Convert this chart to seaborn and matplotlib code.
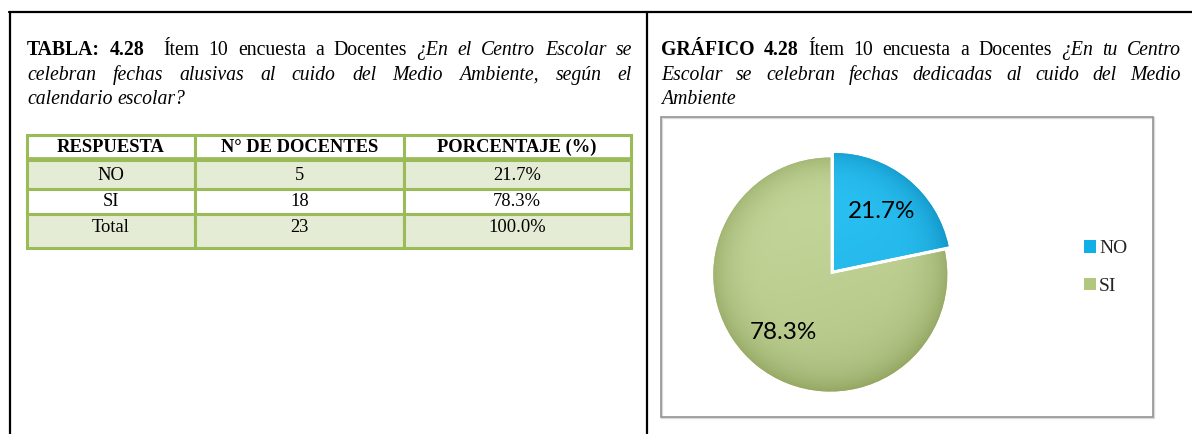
import numpy as np
import matplotlib
matplotlib.use("Agg")
import matplotlib.pyplot as plt
import seaborn as sns
from matplotlib.patches import Rectangle
from matplotlib.lines import Line2D
from matplotlib.transforms import IdentityTransform
from matplotlib.colors import to_rgb

# ---------------- data ----------------
headers = ["RESPUESTA", "N° DE DOCENTES", "PORCENTAJE (%)"]
respuestas = ["NO", "SI"]
n_docentes = [5, 18]
porcentajes = [21.7, 78.3]
total_label = "Total"

left_title = [
    [("TABLA:", "b", 0), ("4.28", "b", 1), ("Ítem", "n", 2), ("10", "n", 1), ("encuesta", "n", 1),
     ("a", "n", 1), ("Docentes", "n", 1), ("¿En", "i", 1), ("el", "i", 1), ("Centro", "i", 1),
     ("Escolar", "i", 1), ("se", "i", 1)],
    [("celebran", "i", 0), ("fechas", "i", 1), ("alusivas", "i", 1), ("al", "i", 1), ("cuido", "i", 1),
     ("del", "i", 1), ("Medio", "i", 1), ("Ambiente,", "i", 1), ("según", "i", 1), ("el", "i", 1)],
    [("calendario", "i", 0), ("escolar?", "i", 1)],
]
right_title = [
    [("GRÁFICO", "b", 0), ("4.28", "b", 1), ("Ítem", "n", 1), ("10", "n", 1), ("encuesta", "n", 1),
     ("a", "n", 1), ("Docentes", "n", 1), ("¿En", "i", 1), ("tu", "i", 1), ("Centro", "i", 1)],
    [("Escolar", "i", 0), ("se", "i", 1), ("celebran", "i", 1), ("fechas", "i", 1), ("dedicadas", "i", 1),
     ("al", "i", 1), ("cuido", "i", 1), ("del", "i", 1), ("Medio", "i", 1)],
    [("Ambiente", "i", 0)],
]

# ---------------- style ----------------
sns.set_theme(style="white")
plt.rcParams["font.family"] = ["Liberation Serif", "DejaVu Serif"]

W, H = 1192, 434
fig = plt.figure(figsize=(W / 100, H / 100), dpi=100)
fig.patch.set_facecolor("white")
renderer = fig.canvas.get_renderer()

def fx(x):
    return x / W

def fy(y):
    return 1 - y / H

# ---------------- frame lines ----------------
for line in [((9, W), (11.5, 11.5)), ((10, 10), (11.5, H)), ((647, 647), (11.5, H))]:
    fig.add_artist(Line2D([fx(v) for v in line[0]], [fy(v) for v in line[1]],
                          transform=fig.transFigure, color="black", lw=1.6))

# ---------------- justified title text ----------------
TITLE_SIZE = 14.2

def text_line(words, x0, x1, y, justify, size=TITLE_SIZE):
    arts = []
    for w, st, _ in words:
        t = fig.text(0, 0, w, transform=IdentityTransform(), fontsize=size,
                     family="Liberation Serif",
                     fontweight="bold" if st == "b" else "normal",
                     fontstyle="italic" if st == "i" else "normal",
                     va="baseline", ha="left", color="black")
        arts.append(t)
    widths = [t.get_window_extent(renderer).width for t in arts]
    gaps = [g for (_, _, g) in words]
    nsp = sum(gaps[1:])
    if justify and nsp > 0:
        unit = (x1 - x0 - sum(widths)) / nsp
    else:
        unit = size * 100 / 72 * 0.25
    x = x0
    for i, t in enumerate(arts):
        if i > 0:
            x += gaps[i] * unit
        t.set_position((x, H - y))
        x += widths[i]

baselines = [55, 80, 104.5]
for i, words in enumerate(left_title):
    text_line(words, 27, 632, baselines[i], justify=(i < 2))
for i, words in enumerate(right_title):
    text_line(words, 661, 1181, baselines[i], justify=(i < 2))

# ---------------- table ----------------
GREEN = "#9BBB59"
SHADE = "#E4ECD5"
ax_t = fig.add_axes([fx(20), fy(255), fx(640) - fx(20), (255 - 128) / H])
ax_t.set_xlim(20, 640)
ax_t.set_ylim(255, 128)
ax_t.axis("off")

col_edges = [26.5, 195, 403.5, 630.5]
row_edges = [134.5, 159.5, 189.5, 214.5, 248.5]
row_fill = ["white", SHADE, "white", SHADE]
row_text_y = [147, 175.5, 202, 227.5]

rows = [headers]
for r, n, p in zip(respuestas, n_docentes, porcentajes):
    rows.append([r, f"{n}", f"{p:.1f}%"])
rows.append([total_label, f"{sum(n_docentes)}", f"{sum(porcentajes):.1f}%"])

for ri in range(4):
    y0, y1 = row_edges[ri], row_edges[ri + 1]
    for ci in range(3):
        x0, x1 = col_edges[ci], col_edges[ci + 1]
        ax_t.add_patch(Rectangle((x0, y0), x1 - x0, y1 - y0, facecolor=row_fill[ri],
                                 edgecolor=GREEN, lw=2.2, zorder=1))
        ax_t.text((x0 + x1) / 2, row_text_y[ri], rows[ri][ci], ha="center", va="center",
                  fontsize=13.3, family="Liberation Serif",
                  fontweight="bold" if ri == 0 else "normal", color="black", zorder=3)
# thicker header separator
ax_t.plot([col_edges[0], col_edges[-1]], [row_edges[1], row_edges[1]], color=GREEN, lw=3.4, zorder=2,
          solid_capstyle="butt")

# ---------------- chart box ----------------
fig.add_artist(Rectangle((fx(662), fy(418)), (1154 - 662) / W, (418 - 118) / H,
                         transform=fig.transFigure, fill=False, edgecolor="#D9D9D9", lw=1.6))
fig.add_artist(Rectangle((fx(661), fy(417)), (1153 - 661) / W, (417 - 117) / H,
                         transform=fig.transFigure, fill=False, edgecolor="#959595", lw=1.2))

# ---------------- pie ----------------
cx, cy, R = 834, 270, 117
half = 1.15 * R
ax_p = fig.add_axes([fx(cx - half), fy(cy + half), 2 * half / W, 2 * half / H])
base_cols = ["#12AEE6", "#B2C67E"]
light_cols = ["#2CC4F6", "#C6D89C"]
dark_cols = ["#0A86B8", "#8C9E58"]

wedges, texts, autotexts = ax_p.pie(
    n_docentes, colors=base_cols, startangle=90, counterclock=False,
    explode=(0, 0.05), autopct="%.1f%%", pctdistance=0.64,
    wedgeprops=dict(linewidth=0), textprops=dict(fontsize=17.5, family="Lato", color="black"))

ext = 1.15
n = 400
xs = np.linspace(-ext, ext, n)
X, Y = np.meshgrid(xs, xs)
for w, lc, dc in zip(wedges, light_cols, dark_cols):
    wx, wy = w.center
    Rr = np.hypot(X - wx, Y - wy)
    s = np.clip(0.55 * Rr ** 6 + 0.3 * (0.5 - 0.5 * (Y - wy)) + 0.1 * (X - wx) * 0.5, 0, 1)
    img = np.array(to_rgb(lc))[None, None, :] * (1 - s)[..., None] + np.array(to_rgb(dc))[None, None, :] * s[..., None]
    im = ax_p.imshow(img, extent=(-ext, ext, -ext, ext), origin="lower", zorder=w.get_zorder() + 0.5,
                     interpolation="bilinear")
    im.set_clip_path(w)
for t in autotexts:
    t.set_zorder(10)
ax_p.set_xlim(-ext, ext)
ax_p.set_ylim(-ext, ext)
ax_p.set_aspect("auto")
ax_p.axis("off")

leg = ax_p.legend(wedges, respuestas, loc="upper left", bbox_to_anchor=(fx(1084), fy(240)),
                  bbox_transform=fig.transFigure, frameon=False, borderpad=0, borderaxespad=0,
                  handlelength=0.62, handleheight=0.62, handletextpad=0.15, labelspacing=1.05,
                  prop=dict(family="Liberation Serif", size=14))

fig.savefig("out.png", dpi=100, facecolor="white")
